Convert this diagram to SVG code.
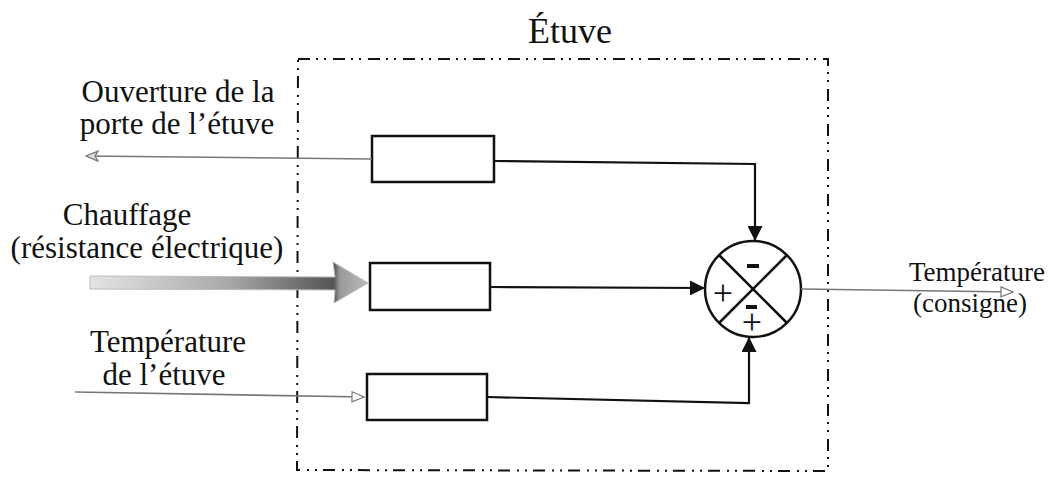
<svg xmlns="http://www.w3.org/2000/svg" width="1057" height="484" viewBox="0 0 1057 484">
<style>
text{font-family:"Liberation Serif","Times New Roman",serif;fill:#111;}
.lbl{font-size:31px;text-anchor:middle;}
.lbr{font-size:27px;text-anchor:middle;}
.blk{fill:#fff;stroke:#111;stroke-width:2.5;}
.wire{fill:none;stroke:#111;stroke-width:2.2;}
.gray{fill:none;stroke:#777;stroke-width:1.6;}
.frame{fill:none;stroke:#111;stroke-width:2;stroke-dasharray:12 6 2 6 2 7;}
.sign{font-size:36px;text-anchor:middle;}
</style>
<defs>
<marker id="ab" markerWidth="15" markerHeight="15" refX="14" refY="7.5" orient="auto" markerUnits="userSpaceOnUse">
<path d="M0,0 L15,7.5 L0,15 Z" fill="#111"/>
</marker>
<marker id="ag" markerWidth="14" markerHeight="12" refX="13" refY="6" orient="auto" markerUnits="userSpaceOnUse">
<path d="M1,1 L13,6 L1,11 L4,6 Z" fill="#ddd" stroke="#777" stroke-width="1.2"/>
</marker>
<marker id="ah" markerWidth="14" markerHeight="12" refX="13" refY="6" orient="auto" markerUnits="userSpaceOnUse">
<path d="M1,1 L13,6 L1,11 Z" fill="#fff" stroke="#777" stroke-width="1.2"/>
</marker>
<linearGradient id="heat" x1="85" y1="0" x2="368" y2="0" gradientUnits="userSpaceOnUse">
<stop offset="0" stop-color="#e6e6e6"/>
<stop offset="0.5" stop-color="#aaa"/>
<stop offset="0.88" stop-color="#555"/>
<stop offset="0.9" stop-color="#999"/>
<stop offset="1" stop-color="#bbb"/>
</linearGradient>
</defs>

<g id="title"><text x="570" y="43" font-size="36" text-anchor="middle">Étuve</text></g>
<g id="etuve-frame"><path class="frame" d="M298,59 L828,59 L828,471 L297,470 Z"/></g>

<g id="labels">
<text class="lbl" x="178" y="102">Ouverture de la</text>
<text class="lbl" x="177" y="134">porte de l’étuve</text>
<text class="lbl" x="127" y="225">Chauffage</text>
<text class="lbl" x="147" y="258">(résistance électrique)</text>
<text class="lbl" x="168" y="352">Température</text>
<text class="lbl" x="164" y="385">de l’étuve</text>
<text class="lbr" x="977" y="281">Température</text>
<text class="lbr" x="970" y="312">(consigne)</text>
</g>

<g id="block1"><rect class="blk" x="372" y="136" width="122" height="46"/></g>
<g id="block2"><rect class="blk" x="370" y="263" width="120" height="47"/></g>
<g id="block3"><rect class="blk" x="367" y="374" width="120" height="46"/></g>

<g id="comparator">
<circle cx="753" cy="289" r="48" fill="#fff" stroke="#111" stroke-width="2.5"/>
<line x1="719" y1="255" x2="787" y2="323" stroke="#111" stroke-width="2.5"/>
<line x1="787" y1="255" x2="719" y2="323" stroke="#111" stroke-width="2.5"/>
<rect x="747" y="264" width="12" height="4" fill="#111"/>
<text class="sign" x="723" y="305">+</text>
<rect x="746" y="305" width="11" height="4" fill="#111"/>
<text class="sign" x="752" y="334">+</text>
</g>

<g id="connectors">
<path class="gray" d="M372,159 L86,156" marker-end="url(#ag)"/>
<path d="M90,276 L335,277 L333,262 L368,283 L334,303 L335,290 L90,289 Z" fill="url(#heat)" stroke="#bbb" stroke-width="1"/>
<path class="gray" d="M75,392 L364,397" stroke="#333" marker-end="url(#ah)"/>
<path class="wire" d="M494,161 L755,164 L755,240" marker-end="url(#ab)"/>
<path class="wire" d="M490,287 L704,288" marker-end="url(#ab)"/>
<path class="wire" d="M487,397 L749,403 L749,338" marker-end="url(#ab)"/>
<path class="gray" d="M801,289 L1013,292" marker-end="url(#ah)"/>
</g>
</svg>
